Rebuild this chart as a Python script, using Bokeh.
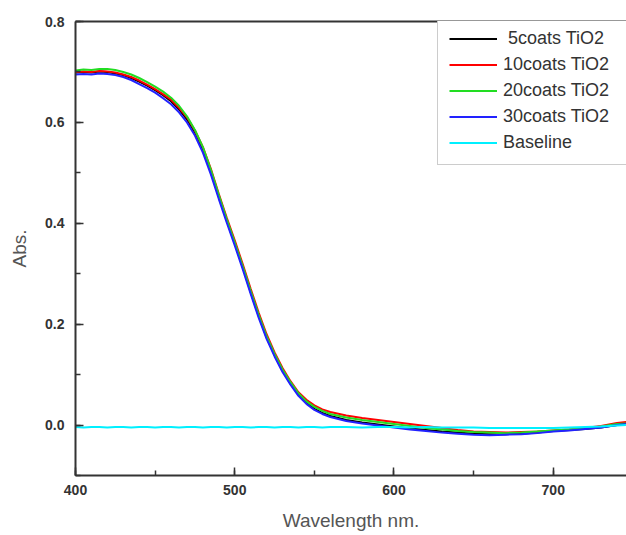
from bokeh.plotting import figure
from bokeh.models import LinearAxis, FixedTicker, SingleIntervalTicker, NumeralTickFormatter
from bokeh.embed import file_html
from bokeh.resources import INLINE

wavelength = [400, 405, 410, 415, 420, 425, 430, 435, 440, 445, 450, 455, 460, 465, 470,
              475, 480, 485, 490, 495, 500, 505, 510, 515, 520, 525, 530, 535, 540, 545,
              550, 555, 560, 570, 580, 590, 600, 610, 620, 630, 640, 650, 660, 670, 680,
              690, 700, 710, 720, 730, 740, 746]

coats5 = [0.699, 0.700, 0.699, 0.701, 0.700, 0.697, 0.694, 0.688, 0.681, 0.673, 0.664, 0.654,
          0.642, 0.626, 0.606, 0.580, 0.546, 0.502, 0.452, 0.405, 0.360, 0.313, 0.264, 0.217,
          0.174, 0.139, 0.108, 0.082, 0.060, 0.044, 0.032, 0.024, 0.018, 0.010, 0.005, 0.001,
          -0.003, -0.007, -0.010, -0.013, -0.015, -0.017, -0.018, -0.018, -0.017, -0.015,
          -0.012, -0.010, -0.008, -0.005, 0.000, 0.001]

coats10 = [0.700, 0.701, 0.700, 0.702, 0.701, 0.699, 0.695, 0.690, 0.683, 0.675, 0.666, 0.656,
           0.645, 0.629, 0.610, 0.584, 0.551, 0.508, 0.458, 0.411, 0.366, 0.319, 0.270, 0.223,
           0.180, 0.144, 0.113, 0.087, 0.065, 0.050, 0.039, 0.031, 0.026, 0.019, 0.014, 0.010,
           0.006, 0.002, -0.002, -0.006, -0.010, -0.013, -0.014, -0.015, -0.014, -0.013,
           -0.011, -0.009, -0.006, -0.002, 0.004, 0.006]

coats20 = [0.703, 0.705, 0.704, 0.706, 0.706, 0.704, 0.700, 0.695, 0.688, 0.680, 0.671, 0.661,
           0.649, 0.633, 0.612, 0.585, 0.551, 0.506, 0.456, 0.408, 0.362, 0.315, 0.266, 0.219,
           0.176, 0.141, 0.110, 0.085, 0.063, 0.047, 0.036, 0.028, 0.022, 0.015, 0.010, 0.006,
           0.002, -0.002, -0.006, -0.009, -0.012, -0.014, -0.015, -0.016, -0.015, -0.013,
           -0.011, -0.009, -0.007, -0.003, 0.002, 0.003]

coats30 = [0.695, 0.696, 0.695, 0.697, 0.696, 0.694, 0.690, 0.684, 0.676, 0.668, 0.659, 0.648,
           0.636, 0.620, 0.600, 0.574, 0.540, 0.497, 0.448, 0.401, 0.356, 0.309, 0.260, 0.213,
           0.171, 0.136, 0.105, 0.080, 0.058, 0.042, 0.030, 0.022, 0.016, 0.008, 0.003, -0.001,
           -0.005, -0.009, -0.012, -0.015, -0.017, -0.019, -0.020, -0.019, -0.018, -0.016,
           -0.013, -0.011, -0.008, -0.005, 0.000, 0.002]

baseline = [-0.004, -0.005, -0.004, -0.004, -0.005, -0.004, -0.004, -0.005, -0.004, -0.004,
            -0.005, -0.004, -0.004, -0.005, -0.004, -0.004, -0.005, -0.004, -0.004, -0.005,
            -0.004, -0.004, -0.005, -0.004, -0.004, -0.005, -0.004, -0.004, -0.005, -0.004,
            -0.004, -0.005, -0.004, -0.004, -0.005, -0.004, -0.004, -0.005, -0.004, -0.005,
            -0.005, -0.005, -0.006, -0.006, -0.006, -0.006, -0.006, -0.005, -0.004, -0.003,
            -0.001, 0.000]

series_labels = ["\u00a05coats TiO2", "10coats TiO2", "20coats TiO2", "30coats TiO2", "Baseline"]
series_values = [coats5, coats10, coats20, coats30, baseline]
series_colors = ["#000000", "#ff0000", "#22dd22", "#2222ff", "#00f0ff"]

x_ticks_interval = 100
y_ticks_interval = 0.2

FONT = "Liberation Sans"

p = figure(width=626, height=535, x_range=(400, 746), y_range=(-0.1, 0.8),
           output_backend="svg", toolbar_location=None,
           min_border_left=75, min_border_right=0, min_border_top=21, min_border_bottom=60,
           background_fill_color="white", border_fill_color="white")

for vals, lab, col in zip(series_values, series_labels, series_colors):
    p.line(wavelength, vals, line_color=col, line_width=2, legend_label=lab)

p.xgrid.visible = False
p.ygrid.visible = False
p.outline_line_color = None

for ax in (p.xaxis[0], p.yaxis[0]):
    ax.axis_line_color = "#333333"
    ax.axis_line_width = 2
    ax.major_tick_line_color = "#333333"
    ax.minor_tick_line_color = "#333333"
    ax.major_tick_line_width = 1.5
    ax.minor_tick_line_width = 1.5
    ax.major_tick_in = 8
    ax.major_tick_out = 0
    ax.minor_tick_in = 5
    ax.minor_tick_out = 0
    ax.major_label_text_font = FONT
    ax.major_label_text_font_style = "bold"
    ax.major_label_text_font_size = "14px"
    ax.major_label_text_color = "#333333"
    ax.axis_label_text_font = FONT
    ax.axis_label_text_font_style = "normal"
    ax.axis_label_text_font_size = "19px"
    ax.axis_label_text_color = "#555555"

p.xaxis[0].ticker = SingleIntervalTicker(interval=x_ticks_interval, num_minor_ticks=2)
p.yaxis[0].ticker = SingleIntervalTicker(interval=y_ticks_interval, num_minor_ticks=2)
p.yaxis[0].formatter = NumeralTickFormatter(format="0.0")
p.xaxis[0].axis_label = "Wavelength nm."
p.yaxis[0].axis_label = "Abs."
p.xaxis[0].major_label_standoff = 9
p.yaxis[0].major_label_standoff = 11
p.xaxis[0].axis_label_standoff = 12
p.yaxis[0].axis_label_standoff = 12

top = LinearAxis(ticker=FixedTicker(ticks=[]), axis_line_color="#333333", axis_line_width=2,
                 major_tick_line_color=None, minor_tick_line_color=None,
                 major_label_text_font_size="0px")
p.add_layout(top, "above")

lg = p.legend[0]
lg.location = (362, 310)
lg.padding = 11
lg.spacing = 5
lg.label_height = 21
lg.glyph_height = 21
lg.glyph_width = 48
lg.label_standoff = 6
lg.label_width = 140
lg.label_text_font = FONT
lg.label_text_font_size = "18px"
lg.label_text_color = "#333333"
lg.border_line_color = "#999999"
lg.border_line_width = 1
lg.background_fill_color = "white"
lg.background_fill_alpha = 1.0

open("out.html", "w").write(file_html(p, INLINE))
